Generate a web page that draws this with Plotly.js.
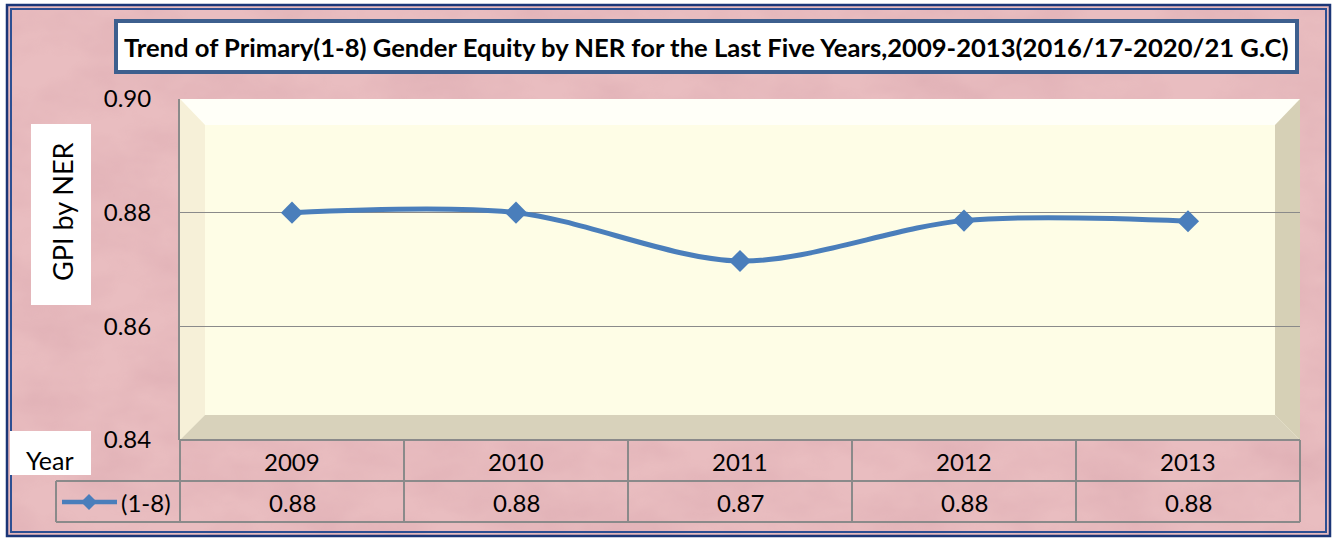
<!DOCTYPE html>
<html>
<head>
<meta charset="utf-8">
<script src="https://cdn.plot.ly/plotly-3.0.1.min.js"></script>
<style>html,body{margin:0;padding:0;background:#fff;}#chart{width:1337px;height:540px;}</style>
</head>
<body>
<div id="chart"></div>
<script>
// ---- data ----
const years = [2009, 2010, 2011, 2012, 2013];
const gpiValues = [0.880, 0.880, 0.8715, 0.8786, 0.8785];
const seriesName = "(1-8)";
const yTicks = [0.84, 0.86, 0.88, 0.90];
const titleText = "Trend of Primary(1-8) Gender Equity by NER for the Last Five Years,2009-2013(2016/17-2020/21 G.C)";
const yTitle = "GPI by NER";
const rowHeader = "Year";

// ---- geometry helpers (pixel -> paper) ----
const W = 1337, H = 540;
const L = 180, R = 1300, T = 99, B = 440;
const px = x => (x - L) / (R - L);
const py = y => (B - y) / (B - T);
const FONT = "Lato, 'Noto Sans', sans-serif";
const GRAY = "#8a8a8a";

const shapes = [];
const annotations = [];
function rect(x0, y0, x1, y1, fill, line, lw, layer) {
  shapes.push({type: "rect", xref: "paper", yref: "paper", x0: px(x0), x1: px(x1), y0: py(y1), y1: py(y0),
    fillcolor: fill, line: {color: line || "rgba(0,0,0,0)", width: lw || 0}, layer: layer || "below"});
}
function poly(pts, fill, layer) {
  const d = "M" + pts.map(p => px(p[0]) + "," + py(p[1])).join("L") + "Z";
  shapes.push({type: "path", xref: "paper", yref: "paper", path: d, fillcolor: fill, line: {width: 0}, layer: layer || "below"});
}
function seg(x0, y0, x1, y1, color, w, layer) {
  shapes.push({type: "line", xref: "paper", yref: "paper", x0: px(x0), x1: px(x1), y0: py(y0), y1: py(y1),
    line: {color: color, width: w}, layer: layer || "below"});
}

// texture background (marbled pink)
const tex = '<svg xmlns="http://www.w3.org/2000/svg" width="1337" height="540">' +
  '<filter id="f"><feTurbulence type="fractalNoise" baseFrequency="0.012 0.02" numOctaves="4" seed="3"/>' +
  '<feColorMatrix type="matrix" values="0 0 0 0 0.55  0 0 0 0 0.25  0 0 0 0 0.3  0 0 0 -1.1 0.75"/></filter>' +
  '<rect width="1337" height="540" fill="#e9bdc0"/>' +
  '<rect width="1337" height="540" filter="url(#f)" opacity="0.35"/></svg>';
const texURI = "data:image/svg+xml;base64," + btoa(tex);

// outer frame
rect(7, 5, 1330, 536, "rgba(0,0,0,0)", "#1b3677", 2.5);
rect(11, 9, 1326, 532, "rgba(0,0,0,0)", "#2d4f92", 2);

// plot panel with bevel
rect(L, T, R, B, "#fefde6");
poly([[L, T], [R, T], [R - 25, T + 26], [L + 25, T + 26]], "#fffff8");
poly([[L, T], [L + 25, T + 26], [L + 25, B - 25], [L, B]], "#f6f0d8");
poly([[R, T], [R, B], [R - 25, B - 25], [R - 25, T + 26]], "#d6d0b6");
poly([[L, B], [R, B], [R - 25, B - 25], [L + 25, B - 25]], "#d8d2bb");

// title box
rect(116, 21, 1297, 72, "#ffffff", "#3d5f8e", 4, "above");
annotations.push({xref: "paper", yref: "paper", x: px(706), y: py(47), text: "<b>" + titleText + "</b>",
  showarrow: false, xanchor: "center", yanchor: "middle", font: {family: FONT, size: 25.6, color: "#000"}});

// y title box
rect(31, 124, 91, 305, "#ffffff", null, 0, "above");
annotations.push({xref: "paper", yref: "paper", x: px(62), y: py(212), text: yTitle, textangle: -90,
  showarrow: false, xanchor: "center", yanchor: "middle", font: {family: FONT, size: 27, color: "#000"}});

// Year box
rect(10, 431, 91, 475, "#ffffff", null, 0, "above");
annotations.push({xref: "paper", yref: "paper", x: px(50), y: py(460), text: rowHeader,
  showarrow: false, xanchor: "center", yanchor: "middle", font: {family: FONT, size: 25, color: "#000"}});

// data table grid
const colEdges = [180, 404, 628, 852, 1076, 1300];
seg(180, 440, 1300, 440, GRAY, 2, "above");
seg(56, 481, 1300, 481, GRAY, 2, "above");
seg(56, 522, 1300, 522, GRAY, 2, "above");
colEdges.forEach(x => seg(x, 440, x, 522, GRAY, 2, "above"));
seg(56, 481, 56, 522, GRAY, 2, "above");

// table text
years.forEach((yr, i) => {
  annotations.push({xref: "x", yref: "paper", x: yr, y: py(461), text: String(yr), showarrow: false,
    xanchor: "center", yanchor: "middle", font: {family: FONT, size: 24, color: "#000"}});
  annotations.push({xref: "x", yref: "paper", x: yr, y: py(502), text: gpiValues[i].toFixed(2), showarrow: false,
    xanchor: "center", yanchor: "middle", font: {family: FONT, size: 24, color: "#000"}});
});

// legend key inside table
seg(62, 502, 117, 502, "#4a7ebb", 4.5, "above");
shapes.push({type: "path", xref: "paper", yref: "paper", layer: "above",
  path: "M" + px(89) + "," + py(494) + "L" + px(97) + "," + py(502) + "L" + px(89) + "," + py(510) + "L" + px(81) + "," + py(502) + "Z",
  fillcolor: "#4a7ebb", line: {width: 0}});
annotations.push({xref: "paper", yref: "paper", x: px(119), y: py(502), text: seriesName, showarrow: false,
  xanchor: "left", yanchor: "middle", font: {family: FONT, size: 24, color: "#000"}});

const trace = {
  x: years, y: gpiValues, name: seriesName, type: "scatter", mode: "lines+markers",
  line: {color: "#4a7ebb", width: 5, shape: "spline", smoothing: 0.9},
  marker: {symbol: "diamond", size: 17, color: "#4a7ebb"},
  hoverinfo: "x+y"
};

const layout = {
  width: W, height: H,
  margin: {l: L, r: W - R, t: T, b: H - B, pad: 0},
  paper_bgcolor: "#ffffff",
  plot_bgcolor: "rgba(0,0,0,0)",
  showlegend: false,
  images: [{source: texURI, xref: "paper", yref: "paper", x: px(8), y: py(6), sizex: px(1329) - px(8), sizey: py(6) - py(535),
    xanchor: "left", yanchor: "top", sizing: "stretch", layer: "below", opacity: 1}],
  xaxis: {range: [2008.5, 2013.5], showticklabels: false, showgrid: false, zeroline: false, ticks: "", showline: false, fixedrange: true},
  yaxis: {range: [0.84, 0.90], tickvals: yTicks, ticktext: yTicks.map(v => v.toFixed(2)), showgrid: true,
    gridcolor: "#8a8a8a", gridwidth: 1.5, zeroline: false, showline: true, linecolor: "#8a8a8a", linewidth: 2,
    ticks: "", ticklabelstandoff: 22, tickfont: {family: FONT, size: 24, color: "#000"}, fixedrange: true},
  shapes: shapes,
  annotations: annotations,
  font: {family: FONT}
};

Plotly.newPlot("chart", [trace], layout, {displayModeBar: false, staticPlot: true});
</script>
</body>
</html>
